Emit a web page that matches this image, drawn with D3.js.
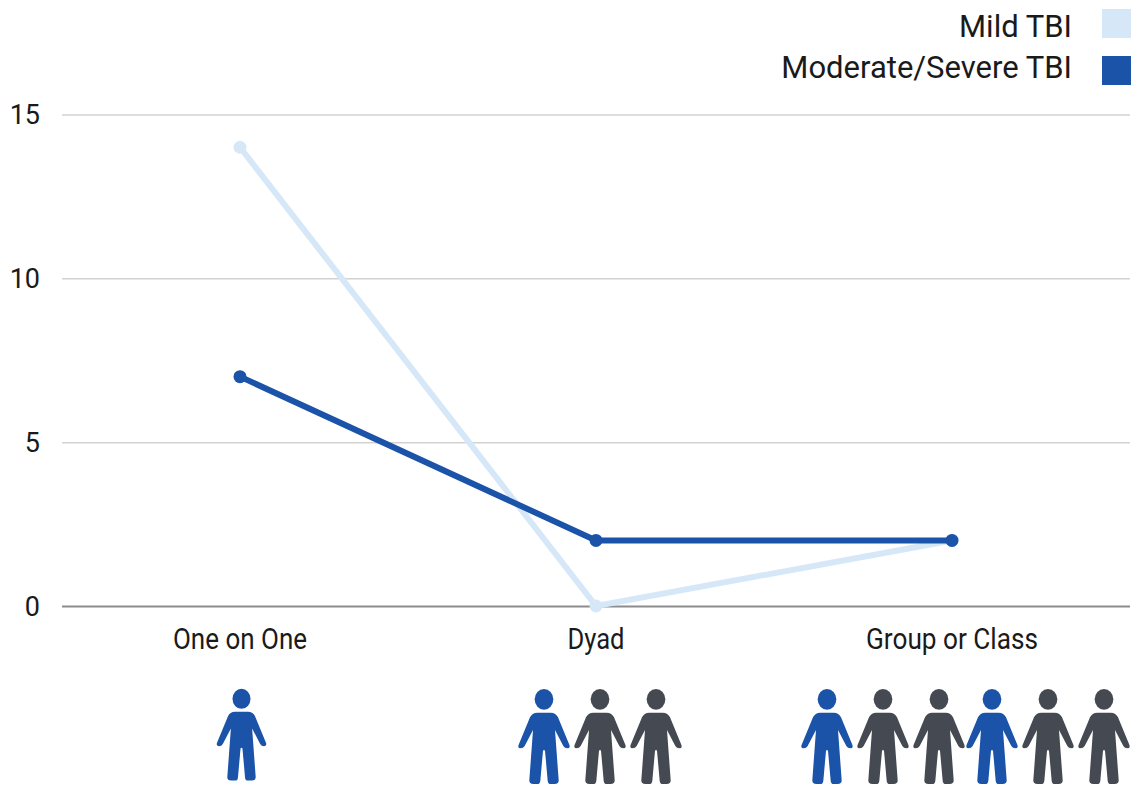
<!DOCTYPE html>
<html>
<head>
<meta charset="utf-8">
<script src="https://d3js.org/d3.v7.min.js"></script>
<style>
html, body { margin: 0; padding: 0; background: #fff; }
svg { display: block; }
text { font-family: Roboto, sans-serif; fill: #1a1a1a; }
</style>
</head>
<body>
<div id="content"></div>
<script>
var categories = ['One on One', 'Dyad', 'Group or Class'];
var mildValues = [14, 0, 2];
var severeValues = [7, 2, 2];
var yTicks = [0, 5, 10, 15];
var seriesNames = ['Mild TBI', 'Moderate/Severe TBI'];
var seriesColors = ['#d6e8f8', '#1b53a9'];
var labelWidths = [134, 57, 172];

// which people are highlighted under each category
var peopleFlags = [
	[1],
	[1, 0, 0],
	[1, 0, 0, 1, 0, 0]
];
var peopleX = [
	[241.5],
	[544, 600, 656],
	[827, 883, 939, 992, 1048, 1104]
];
var peopleScale = [0.322, 0.3333, 0.3333];

var width = 1136;
var height = 788;
var svg = d3.select('#content').append('svg').attr('width', width).attr('height', height);

var x = d3.scaleBand().domain(categories).range([62, 1130]);
var y = d3.scaleLinear().domain([0, 15]).range([606, 114.5]);
function cx(d){ return x(d) + x.bandwidth()/2; }

// grid lines + y labels
var yAxis = d3.axisLeft(y).tickValues(yTicks).tickSize(-(1130-62)).tickPadding(22);
var gy = svg.append('g').attr('transform', 'translate(62,0)').call(yAxis);
gy.select('.domain').remove();
gy.selectAll('.tick line').attr('stroke', function(d){ return d == 0 ? '#8c8c8c' : '#d2d2d2'; }).attr('stroke-width', function(d){ return d == 0 ? 2 : 1.5; });
gy.selectAll('.tick text').attr('font-size', 27).attr('font-family', 'Roboto, sans-serif').attr('fill', '#1a1a1a').attr('text-anchor', 'end').attr('x', -22).attr('dy', '0.35em');

// category labels
var xAxis = d3.axisBottom(x).tickSize(0).tickPadding(0);
var gx = svg.append('g').attr('transform', 'translate(0,606)').call(xAxis);
gx.select('.domain').remove();
gx.selectAll('.tick text')
	.attr('font-size', 29)
	.attr('font-family', 'Roboto, sans-serif')
	.attr('fill', '#1a1a1a')
	.attr('y', 0)
	.attr('dy', 43)
	.attr('textLength', function(d, i){ return labelWidths[i]; })
	.attr('lengthAdjust', 'spacingAndGlyphs');

// lines
var line = d3.line().x(function(d, i){ return cx(categories[i]); }).y(function(d){ return y(d); });
[mildValues, severeValues].forEach(function(values, s){
	svg.append('path').attr('d', line(values)).attr('fill', 'none')
		.attr('stroke', seriesColors[s]).attr('stroke-width', 6);
	svg.selectAll('.dot' + s).data(values).enter().append('circle')
		.attr('class', 'dot' + s)
		.attr('cx', function(d, i){ return cx(categories[i]); })
		.attr('cy', function(d){ return y(d); })
		.attr('r', 6.5)
		.attr('fill', seriesColors[s]);
});

// legend
seriesNames.forEach(function(name, i){
	var rowY = [9, 56][i];
	svg.append('text').attr('x', 1072).attr('y', rowY + [28, 22][i]).attr('text-anchor', 'end').attr('font-size', 31).text(name);
	svg.append('rect').attr('x', 1102).attr('y', rowY).attr('width', 29).attr('height', 29).attr('fill', seriesColors[i]);
});

// people icons
var bodyPath = 'M-20,128 Q-36,128 -42,142 L-76,224 Q-80,235 -70,235 Q-62,235 -58,228 L-33,180 L-44,330 Q-45,342 -32,342 L-20,342 Q-12,342 -11,332 L-3,242 Q0,238 3,242 L11,332 Q12,342 20,342 L32,342 Q45,342 44,330 L33,180 L58,228 Q62,235 70,235 Q80,235 76,224 L42,142 Q36,128 20,128 Z';
peopleFlags.forEach(function(flags, c){
	flags.forEach(function(flag, i){
		var color = flag ? seriesColors[1] : '#454a52';
		var k = peopleScale[c];
		var g = svg.append('g').attr('transform', 'translate(' + peopleX[c][i] + ',' + (c == 0 ? 670.5 : 670) + ') scale(' + k + ')');
		g.append('ellipse').attr('cx', 0).attr('cy', 88).attr('rx', 28).attr('ry', 31).attr('fill', color);
		g.append('path').attr('d', bodyPath).attr('fill', color);
	});
});
</script>
</body>
</html>
